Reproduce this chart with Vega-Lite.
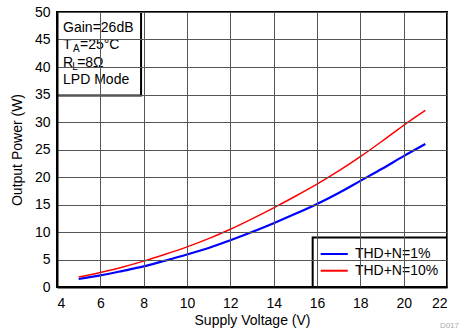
{
  "$schema": "https://vega.github.io/schema/vega-lite/v6.json",
  "width": 390,
  "height": 275,
  "autosize": {"type": "none"},
  "padding": {"left": 57, "top": 12, "right": 22, "bottom": 49},
  "background": "white",
  "config": {
    "font": "Liberation Sans",
    "view": {"stroke": "black", "strokeWidth": 2},
    "axis": {
      "tickSize": 0,
      "domainColor": "black",
      "domainWidth": 2,
      "gridColor": "#555555",
      "gridWidth": 1,
      "gridOpacity": 1,
      "labelOverlap": false,
      "labelFont": "Liberation Sans",
      "titleFont": "Liberation Sans",
      "labelFontSize": 14,
      "titleFontSize": 14,
      "titleFontWeight": "normal",
      "labelColor": "black",
      "titleColor": "black"
    }
  },
  "datasets": {
    "curves": [
      {"series": "THD+N=1%", "vdd": 5, "pout": 1.45},
      {"series": "THD+N=1%", "vdd": 6, "pout": 2.1},
      {"series": "THD+N=1%", "vdd": 7, "pout": 2.9},
      {"series": "THD+N=1%", "vdd": 8, "pout": 3.75},
      {"series": "THD+N=1%", "vdd": 9, "pout": 4.8},
      {"series": "THD+N=1%", "vdd": 10, "pout": 5.9},
      {"series": "THD+N=1%", "vdd": 11, "pout": 7.1},
      {"series": "THD+N=1%", "vdd": 12, "pout": 8.5},
      {"series": "THD+N=1%", "vdd": 13, "pout": 10.0},
      {"series": "THD+N=1%", "vdd": 14, "pout": 11.6},
      {"series": "THD+N=1%", "vdd": 15, "pout": 13.3},
      {"series": "THD+N=1%", "vdd": 16, "pout": 15.1},
      {"series": "THD+N=1%", "vdd": 17, "pout": 17.1},
      {"series": "THD+N=1%", "vdd": 18, "pout": 19.3},
      {"series": "THD+N=1%", "vdd": 19, "pout": 21.5},
      {"series": "THD+N=1%", "vdd": 20, "pout": 23.8},
      {"series": "THD+N=1%", "vdd": 21, "pout": 26.0},
      {"series": "THD+N=10%", "vdd": 5, "pout": 1.8},
      {"series": "THD+N=10%", "vdd": 6, "pout": 2.65},
      {"series": "THD+N=10%", "vdd": 7, "pout": 3.6},
      {"series": "THD+N=10%", "vdd": 8, "pout": 4.7},
      {"series": "THD+N=10%", "vdd": 9, "pout": 5.95},
      {"series": "THD+N=10%", "vdd": 10, "pout": 7.3},
      {"series": "THD+N=10%", "vdd": 11, "pout": 8.8},
      {"series": "THD+N=10%", "vdd": 12, "pout": 10.5},
      {"series": "THD+N=10%", "vdd": 13, "pout": 12.4},
      {"series": "THD+N=10%", "vdd": 14, "pout": 14.4},
      {"series": "THD+N=10%", "vdd": 15, "pout": 16.5},
      {"series": "THD+N=10%", "vdd": 16, "pout": 18.7},
      {"series": "THD+N=10%", "vdd": 17, "pout": 21.1},
      {"series": "THD+N=10%", "vdd": 18, "pout": 23.7},
      {"series": "THD+N=10%", "vdd": 19, "pout": 26.5},
      {"series": "THD+N=10%", "vdd": 20, "pout": 29.4},
      {"series": "THD+N=10%", "vdd": 21, "pout": 32.1}
    ],
    "frames": [
      {"vdd": 4, "vddEnd": 7.88, "pout": 34.8, "poutTop": 50},
      {"vdd": 15.8, "vddEnd": 22, "pout": 0, "poutTop": 9.0}
    ],
    "conditions": [
      {"t": "Gain=26dB", "vdd": 4.28, "pout": 47.1},
      {"t": "T", "vdd": 4.28, "pout": 44.0},
      {"t": "=25°C", "vdd": 5.06, "pout": 44.0},
      {"t": "R", "vdd": 4.28, "pout": 40.7},
      {"t": "=8Ω", "vdd": 4.93, "pout": 40.7},
      {"t": "LPD Mode", "vdd": 4.28, "pout": 37.6}
    ],
    "subscripts": [
      {"t": "A", "vdd": 4.74, "pout": 44.0},
      {"t": "L", "vdd": 4.70, "pout": 40.7}
    ],
    "keySwatches": [
      {"series": "THD+N=1%", "vdd": 16.17, "vddEnd": 17.42, "pout": 6.0},
      {"series": "THD+N=10%", "vdd": 16.17, "vddEnd": 17.42, "pout": 2.96}
    ],
    "keyLabels": [
      {"series": "THD+N=1%", "vdd": 17.75, "pout": 6.0},
      {"series": "THD+N=10%", "vdd": 17.75, "pout": 2.96}
    ],
    "figureId": [
      {"t": "D017", "vdd": 22, "pout": 0}
    ]
  },
  "encoding": {
    "x": {
      "field": "vdd", "type": "quantitative",
      "scale": {"domain": [4, 22], "nice": false},
      "axis": {"values": [4, 6, 8, 10, 12, 14, 16, 18, 20, 22], "grid": true, "zindex": 1, "labelPadding": 9, "titlePadding": 3},
      "title": "Supply Voltage (V)"
    },
    "y": {
      "field": "pout", "type": "quantitative",
      "scale": {"domain": [0, 50], "nice": false},
      "axis": {"values": [0, 5, 10, 15, 20, 25, 30, 35, 40, 45, 50], "grid": true, "zindex": 1, "labelPadding": 7, "titlePadding": 10},
      "title": "Output Power (W)"
    }
  },
  "layer": [
    {
      "data": {"name": "curves"},
      "mark": {"type": "line", "interpolate": "monotone"},
      "encoding": {
        "color": {
          "field": "series", "type": "nominal",
          "scale": {"domain": ["THD+N=1%", "THD+N=10%"], "range": ["#0000ff", "#ff0000"]},
          "legend": null
        },
        "size": {
          "field": "series", "type": "nominal",
          "scale": {"domain": ["THD+N=1%", "THD+N=10%"], "range": [2.2, 1.5]},
          "legend": null
        }
      }
    },
    {
      "data": {"name": "frames"},
      "mark": {"type": "rect", "fill": "white", "stroke": "black", "strokeWidth": 2},
      "encoding": {
        "x2": {"field": "vddEnd"},
        "y2": {"field": "poutTop"}
      }
    },
    {
      "data": {"name": "keySwatches"},
      "mark": {"type": "rule", "strokeWidth": 2},
      "encoding": {
        "x2": {"field": "vddEnd"},
        "color": {"field": "series", "type": "nominal", "legend": null}
      }
    },
    {
      "data": {"name": "keyLabels"},
      "mark": {"type": "text", "align": "left", "baseline": "middle", "fontSize": 14, "color": "black"},
      "encoding": {
        "text": {"field": "series"}
      }
    },
    {
      "data": {"name": "conditions"},
      "mark": {"type": "text", "align": "left", "baseline": "middle", "fontSize": 14, "color": "black"},
      "encoding": {
        "text": {"field": "t"}
      }
    },
    {
      "data": {"name": "subscripts"},
      "mark": {"type": "text", "align": "left", "baseline": "middle", "fontSize": 10, "dy": 4, "color": "black"},
      "encoding": {
        "text": {"field": "t"}
      }
    },
    {
      "data": {"name": "figureId"},
      "mark": {"type": "text", "align": "right", "baseline": "middle", "fontSize": 8, "dx": 12, "dy": 39, "color": "#aaaaaa"},
      "encoding": {
        "text": {"field": "t"}
      }
    }
  ]
}
